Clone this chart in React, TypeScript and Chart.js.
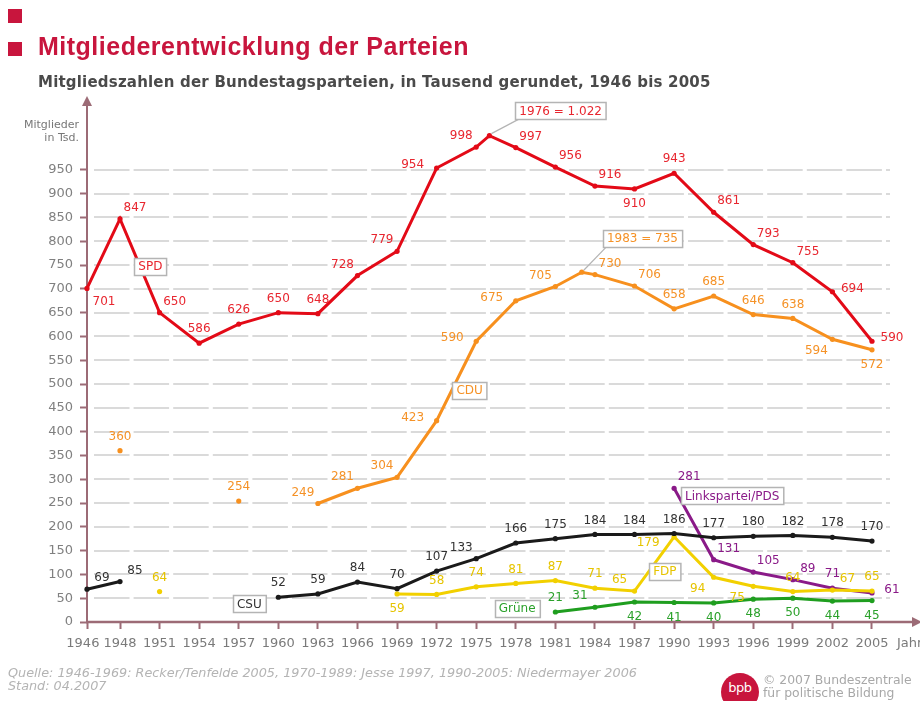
import React, { useEffect, useRef } from "react";
import { Chart, registerables } from "chart.js";

Chart.register(...registerables);

// ---------- data ----------
const years = [1946, 1948, 1951, 1954, 1957, 1960, 1963, 1966, 1969, 1972, 1975, 1976, 1978, 1981, 1983, 1984, 1987, 1990, 1993, 1996, 1999, 2002, 2005];
const tickYears = [1946, 1948, 1951, 1954, 1957, 1960, 1963, 1966, 1969, 1972, 1975, 1978, 1981, 1984, 1987, 1990, 1993, 1996, 1999, 2002, 2005];
const yTicks = [0, 50, 100, 150, 200, 250, 300, 350, 400, 450, 500, 550, 600, 650, 700, 750, 800, 850, 900, 950];

const spdValues = [701, 847, 650, 586, 626, 650, 648, 728, 779, 954, 998, 1022, 997, 956, null, 916, 910, 943, 861, 793, 755, 694, 590];
const cduValues = [null, 360, null, null, 254, null, 249, 281, 304, 423, 590, null, 675, 705, 735, 730, 706, 658, 685, 646, 638, 594, 572];
const csuValues = [69, 85, null, null, null, 52, 59, 84, 70, 107, 133, null, 166, 175, null, 184, 184, 186, 177, 180, 182, 178, 170];
const fdpValues = [null, null, 64, null, null, null, null, null, 59, 58, 74, null, 81, 87, null, 71, 65, 179, 94, 75, 64, 67, 65];
const grueneValues = [null, null, null, null, null, null, null, null, null, null, null, null, null, 21, null, 31, 42, 41, 40, 48, 50, 44, 45];
const linkeValues = [null, null, null, null, null, null, null, null, null, null, null, null, null, null, null, null, null, 281, 131, 105, 89, 71, 61];

// label placement codes (style only)
const spdPlace = ["br", "ar", "ar", "a", "a", "a", "a", "al", "al", "l", "al", "", "ar", "ar", "", "ar", "b", "a", "ar", "ar", "ar", "r", "r"];
const cduPlace = ["", "a", "", "", "a", "", "al", "al", "al", "l", "l", "", "l", "al", "", "ar", "ar", "a", "a", "a", "a", "bl", "b"];
const csuPlace = ["ar", "ar", "", "", "", "a", "a", "a", "a", "a", "al", "", "a", "a", "", "a", "a", "a", "a", "a", "a", "a", "a"];
const fdpPlace = ["", "", "a", "", "", "", "", "", "b", "a", "a", "", "a", "a", "", "a", "al", "lb", "bl", "bl", "a", "ar", "a"];
const gruenePlace = ["", "", "", "", "", "", "", "", "", "", "", "", "", "a", "", "al", "b", "b", "b", "b", "b", "b", "b"];
const linkePlace = ["", "", "", "", "", "", "", "", "", "", "", "", "", "", "", "", "", "ar", "ar", "ar", "ar", "a", "r"];

// ---------- style ----------
const FONT = "'DejaVu Sans', Verdana, sans-serif";
const AXIS = "#9c6b76";
const C_SPD = "#e30a17";
const C_CDU = "#f7901e";
const C_CSU = "#1a1a1a";
const C_FDP = "#f2d000";
const C_GRU = "#1f9e1f";
const C_LNK = "#8a1a88";
const CRIMSON = "#c8153d";

const OFF: Record<string, [number, number]> = {
  a: [0, -14],
  b: [0, 15],
  l: [-24, -3],
  lb: [-26, 6],
  r: [20, -3],
  al: [-15, -11],
  ar: [15, -11],
  bl: [-16, 12],
  br: [17, 13],
};

// x position in "slot" units: 1946→1948 is a shorter slot, then one slot per 3 years
const FIRST_GAP = 0.834;
const pos = (yr: number) => (yr >= 1948 ? 1 + (yr - 1948) / 3 : 1 - ((1948 - yr) / 2) * FIRST_GAP);

const series = [
  { name: "SPD", values: spdValues, place: spdPlace, color: C_SPD, labelColor: "#e8262f" },
  { name: "CDU", values: cduValues, place: cduPlace, color: C_CDU, labelColor: "#f59227" },
  { name: "CSU", values: csuValues, place: csuPlace, color: C_CSU, labelColor: "#333333" },
  { name: "FDP", values: fdpValues, place: fdpPlace, color: C_FDP, labelColor: "#e6c400" },
  { name: "Grüne", values: grueneValues, place: gruenePlace, color: C_GRU, labelColor: "#2ba12b" },
  { name: "Linkspartei/PDS", values: linkeValues, place: linkePlace, color: C_LNK, labelColor: "#8a1a88" },
];

// tag boxes anchored in data space (year, value)
const tags = [
  { text: "SPD", year: 1950.3, value: 748, color: "#e8262f" },
  { text: "CDU", year: 1974.5, value: 487, color: "#f59227" },
  { text: "CSU", year: 1957.8, value: 38, color: "#333333" },
  { text: "FDP", year: 1989.3, value: 107, color: "#e6c400" },
  { text: "Grüne", year: 1978.1, value: 28, color: "#2ba12b" },
  { text: "Linkspartei/PDS", year: 1994.4, value: 265, color: "#8a1a88" },
];
const callouts = [
  { text: "1976 = 1.022", year: 1981.4, value: 1074, color: "#e8262f", series: 0, index: 11 },
  { text: "1983 = 735", year: 1987.6, value: 806, color: "#f59227", series: 1, index: 14 },
];

function drawBox(ctx: CanvasRenderingContext2D, cx: number, cy: number, text: string, color: string) {
  ctx.font = `12px ${FONT}`;
  const w = ctx.measureText(text).width + 8;
  const h = 17;
  const x0 = Math.round(cx - w / 2) + 0.5;
  const y0 = Math.round(cy - h / 2) + 0.5;
  ctx.fillStyle = "#ffffff";
  ctx.fillRect(x0, y0, w, h);
  ctx.strokeStyle = "#b4b4b4";
  ctx.lineWidth = 1.5;
  ctx.strokeRect(x0, y0, w, h);
  ctx.fillStyle = color;
  ctx.textAlign = "center";
  ctx.textBaseline = "middle";
  ctx.fillText(text, cx, cy + 0.5);
  return { x0, y0, w, h };
}

const decoPlugin = {
  id: "deco",
  beforeDatasetsDraw(chart: any) {
    const { ctx, chartArea, scales } = chart;
    const x = scales.x;
    const y = scales.y;
    const ax = x.getPixelForValue(pos(1946));
    const ay = y.getPixelForValue(0);
    ctx.save();
    // dashed horizontal grid lines at the y scale's ticks
    ctx.strokeStyle = "#dadada";
    ctx.lineWidth = 2;
    ctx.setLineDash([35.5, 4.1]);
    ctx.lineDashOffset = -4;
    y.ticks.forEach((t: any) => {
      if (t.value === 0) return;
      const py = Math.round(y.getPixelForValue(t.value));
      ctx.beginPath();
      ctx.moveTo(ax + 3, py);
      ctx.lineTo(chartArea.right, py);
      ctx.stroke();
    });
    ctx.setLineDash([]);
    ctx.strokeStyle = AXIS;
    ctx.fillStyle = AXIS;
    // y axis with arrow
    ctx.lineWidth = 2;
    ctx.beginPath();
    ctx.moveTo(ax, ay + 1);
    ctx.lineTo(ax, chartArea.top + 4);
    ctx.stroke();
    ctx.beginPath();
    ctx.moveTo(ax, chartArea.top - 3);
    ctx.lineTo(ax - 5, chartArea.top + 7);
    ctx.lineTo(ax + 5, chartArea.top + 7);
    ctx.closePath();
    ctx.fill();
    // x axis with arrow
    ctx.lineWidth = 2.5;
    ctx.beginPath();
    ctx.moveTo(ax - 1, ay);
    ctx.lineTo(chart.width - 6, ay);
    ctx.stroke();
    ctx.beginPath();
    ctx.moveTo(chart.width + 2, ay);
    ctx.lineTo(chart.width - 8, ay - 5);
    ctx.lineTo(chart.width - 8, ay + 5);
    ctx.closePath();
    ctx.fill();
    ctx.restore();
  },
  afterDatasetsDraw(chart: any) {
    const { ctx, scales } = chart;
    const x = scales.x;
    const y = scales.y;
    ctx.save();
    // value labels
    ctx.font = `12px ${FONT}`;
    ctx.textAlign = "center";
    ctx.textBaseline = "middle";
    series.forEach((s) => {
      s.values.forEach((v, i) => {
        if (v === null || !s.place[i]) return;
        const off = OFF[s.place[i]];
        const px = x.getPixelForValue(pos(years[i]));
        const py = y.getPixelForValue(v);
        ctx.fillStyle = s.labelColor;
        ctx.fillText(String(v), px + off[0], py + off[1]);
      });
    });
    // tags
    tags.forEach((t) => {
      drawBox(ctx, x.getPixelForValue(pos(t.year)), y.getPixelForValue(t.value), t.text, t.color);
    });
    // callouts
    callouts.forEach((c) => {
      const s = series[c.series];
      const px = x.getPixelForValue(pos(years[c.index]));
      const py = y.getPixelForValue(s.values[c.index] as number);
      const cx = x.getPixelForValue(pos(c.year));
      const cy = y.getPixelForValue(c.value);
      ctx.font = `12px ${FONT}`;
      const w = ctx.measureText(c.text).width + 8;
      ctx.strokeStyle = "#b4b4b4";
      ctx.lineWidth = 1.2;
      ctx.beginPath();
      ctx.moveTo(px + 2, py - 2);
      ctx.lineTo(cx - w / 2 + 4, cy + 8);
      ctx.stroke();
      drawBox(ctx, cx, cy, c.text, c.color);
    });
    ctx.restore();
  },
};

const App = () => {
  const ref = useRef<HTMLCanvasElement>(null);

  useEffect(() => {
    if (!ref.current) return;
    const datasets = series.map((s) => ({
      label: s.name,
      data: s.values
        .map((v, i) => (v === null ? null : { x: pos(years[i]), y: v }))
        .filter((p) => p !== null) as { x: number; y: number }[],
      borderColor: s.color,
      backgroundColor: s.color,
      borderWidth: 3,
      pointRadius: 2.6,
      pointBorderWidth: 0,
      pointBackgroundColor: s.color,
      tension: 0,
      spanGaps: 1.5,
      clip: false as any,
    }));

    const chart = new Chart(ref.current, {
      type: "line",
      data: { datasets },
      options: {
        animation: false,
        responsive: false,
        devicePixelRatio: 1,
        layout: { padding: { top: 99, right: 30, left: 0, bottom: 0 } },
        plugins: { legend: { display: false }, tooltip: { enabled: false }, title: { display: false } },
        scales: {
          x: {
            type: "linear",
            min: pos(1946),
            max: 20.455,
            afterBuildTicks: (scale: any) => {
              scale.ticks = tickYears.map((t) => ({ value: pos(t) }));
            },
            afterFit: (scale: any) => {
              scale.height = 79;
            },
            ticks: {
              autoSkip: false,
              maxRotation: 0,
              padding: 7,
              color: "#7a7a7a",
              font: { family: FONT, size: 13 },
              callback: (value: any) => {
                const t = tickYears.find((yr) => Math.abs(pos(yr) - Number(value)) < 1e-6);
                if (t === undefined) return "";
                return t === 1946 ? "1946  " : String(t);
              },
            },
            grid: {
              drawOnChartArea: false,
              drawTicks: true,
              tickLength: 7,
              tickColor: AXIS,
              tickWidth: 2,
            },
            border: { display: false },
          },
          y: {
            type: "linear",
            min: 0,
            max: 1099,
            afterBuildTicks: (scale: any) => {
              scale.ticks = yTicks.map((v) => ({ value: v }));
            },
            afterFit: (scale: any) => {
              scale.width = 87;
            },
            ticks: {
              padding: 7,
              color: "#808080",
              font: { family: FONT, size: 13 },
              callback: (value: any) => String(value),
            },
            grid: {
              drawOnChartArea: false,
              drawTicks: true,
              tickLength: 7,
              tickColor: AXIS,
              tickWidth: 2,
            },
            border: { display: false },
          },
        },
      },
      plugins: [decoPlugin],
    });
    return () => chart.destroy();
  }, []);

  return (
    <div
      style={{
        position: "absolute",
        left: 0,
        top: 0,
        width: 920,
        height: 701,
        overflow: "hidden",
        background: "#ffffff",
        fontFamily: FONT,
      }}
    >
      <canvas ref={ref} width={920} height={701} style={{ position: "absolute", left: 0, top: 0, width: 920, height: 701 }} />
      <div style={{ position: "absolute", left: 8, top: 9, width: 14, height: 14, background: CRIMSON }} />
      <div style={{ position: "absolute", left: 8, top: 42, width: 14, height: 14, background: CRIMSON }} />
      <div
        style={{
          position: "absolute",
          left: 38,
          top: 34,
          fontFamily: "'Liberation Sans', Arial, sans-serif",
          fontWeight: "bold",
          fontSize: 25,
          letterSpacing: 0.5,
          lineHeight: "25px",
          color: CRIMSON,
          whiteSpace: "nowrap",
        }}
      >
        Mitgliederentwicklung der Parteien
      </div>
      <div
        style={{
          position: "absolute",
          left: 38,
          top: 74,
          fontFamily: FONT,
          fontWeight: "bold",
          fontSize: 15,
          letterSpacing: 0.2,
          lineHeight: "16px",
          color: "#4a4a4a",
          whiteSpace: "nowrap",
        }}
      >
        Mitgliedszahlen der Bundestagsparteien, in Tausend gerundet, 1946 bis 2005
      </div>
      <div
        style={{
          position: "absolute",
          right: 920 - 79,
          top: 118,
          fontSize: 11,
          lineHeight: "13px",
          color: "#777777",
          textAlign: "right",
          whiteSpace: "nowrap",
        }}
      >
        Mitglieder
        <br />
        in Tsd.
      </div>
      <div style={{ position: "absolute", left: 897, top: 635, fontSize: 13, lineHeight: "16px", color: "#7a7a7a", whiteSpace: "nowrap" }}>
        Jahr
      </div>
      <div
        style={{
          position: "absolute",
          left: 8,
          top: 666,
          fontSize: 12.8,
          lineHeight: "13px",
          fontStyle: "italic",
          color: "#b4b4b4",
          whiteSpace: "nowrap",
        }}
      >
        Quelle: 1946-1969: Recker/Tenfelde 2005, 1970-1989: Jesse 1997, 1990-2005: Niedermayer 2006
        <br />
        Stand: 04.2007
      </div>
      <div
        style={{
          position: "absolute",
          left: 721,
          top: 673,
          width: 38,
          height: 38,
          borderRadius: 19,
          background: CRIMSON,
          color: "#ffffff",
          fontSize: 13,
          lineHeight: "30px",
          textAlign: "center",
          letterSpacing: -0.5,
        }}
      >
        bpb
      </div>
      <div
        style={{
          position: "absolute",
          left: 763,
          top: 673,
          fontSize: 12.4,
          lineHeight: "13px",
          color: "#a8a8a8",
          whiteSpace: "nowrap",
        }}
      >
        © 2007 Bundeszentrale
        <br />
        für politische Bildung
      </div>
    </div>
  );
};

export default App;
